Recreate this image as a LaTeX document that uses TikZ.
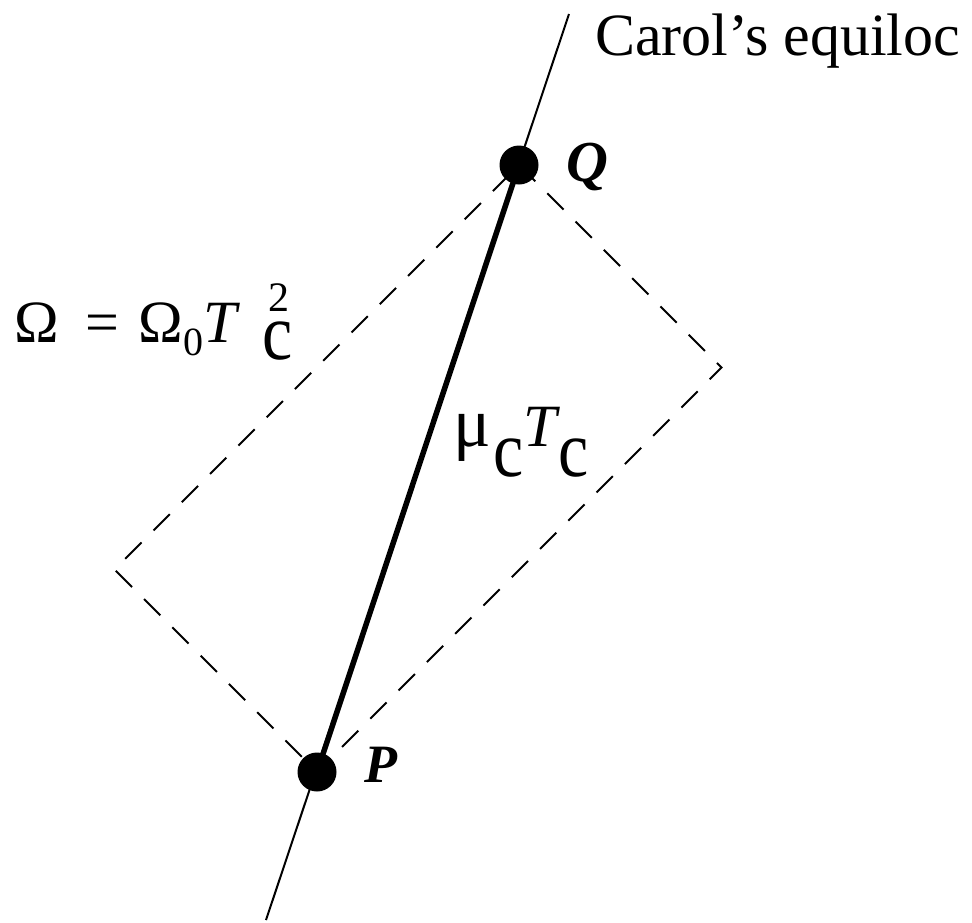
\documentclass[tikz,border=0pt]{standalone}
\usepackage{fontspec}
\usepackage{graphicx}
\setmainfont{Liberation Serif}
\newcommand{\bigc}{\scalebox{0.85}[1]{\fontsize{80}{80}\selectfont c}}
\begin{document}
\begin{tikzpicture}[x=1pt,y=-1pt,
  thinline/.style={line width=2pt},
  thickline/.style={line width=5.5pt},
  dashline/.style={line width=2pt, dash pattern=on 23pt off 17pt},
  dot/.style={circle, fill=black, inner sep=0pt, minimum size=39pt},
  lbl/.style={inner sep=0pt, font=\fontsize{60}{62}\selectfont}]
\useasboundingbox (0,0) rectangle (972,922);
\coordinate (top) at (569,14);
\coordinate (bot) at (266,920);
\coordinate (Pc) at (317,772);
\coordinate (Qc) at (519,165);
\coordinate (R) at (721.5,367.5);
\coordinate (L) at (114.5,569.5);
\draw[dashline] (Qc) -- (R) -- (Pc) -- (L) -- cycle;
\draw[thinline] (bot) -- (top);
\draw[thickline] (Pc) -- (Qc);
\node[dot] (P) at (Pc) {};
\node[dot] (Q) at (Qc) {};
\node[lbl, anchor=base west] (carol) at (595,55) {Carol’s equiloc};
\node[lbl, anchor=base west, font=\fontsize{58}{60}\selectfont] (Qlab) at (566,181) {\textbf{\textit{Q}}};
\node[lbl, anchor=base west, font=\fontsize{54}{56}\selectfont] (Plab) at (364,782) {\textbf{\textit{P}}};
\node[lbl, anchor=base west] (mu) at (453,446) {{\fontsize{70}{70}\selectfont μ}\hspace{3pt}\raisebox{-30pt}{\bigc}\textit{T}\hspace{-2pt}\raisebox{-30pt}{\bigc}};
\node[lbl, anchor=base west] (omega) at (14,342) {Ω\hspace{27pt}=\hspace{19pt}Ω\raisebox{-13pt}{\fontsize{40}{40}\selectfont 0}\textit{T}\hspace{22pt}\rlap{\raisebox{-17pt}{\bigc}}\hspace{6pt}\raisebox{31pt}{\fontsize{42}{42}\selectfont 2}};
\end{tikzpicture}
\end{document}
